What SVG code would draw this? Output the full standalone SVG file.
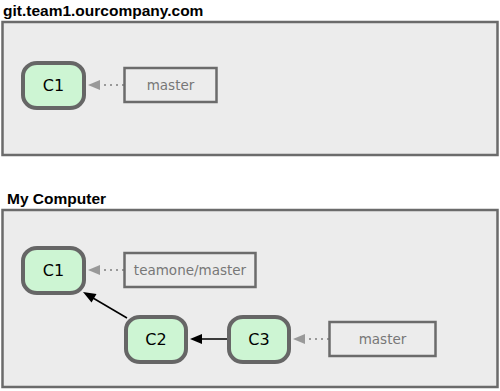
<svg xmlns="http://www.w3.org/2000/svg" width="500" height="391" viewBox="0 0 500 391">
<defs>
<style>
.frame{fill:#ececec;stroke:#6b6b6b;stroke-width:2.5}
.title{font-family:"Liberation Sans",Arial,sans-serif;font-weight:bold;font-size:15.5px;fill:#000}
.commit rect{fill:#cdf5d3;stroke:#666;stroke-width:4}
.commit text{font-family:"DejaVu Sans",sans-serif;font-size:16px;fill:#000;text-anchor:middle}
.ref rect{fill:#ececec;stroke:#6b6b6b;stroke-width:2.5}
.ref text{font-family:"DejaVu Sans",sans-serif;font-size:13.5px;fill:#777;text-anchor:middle}
.dot{stroke:#999;stroke-width:2;stroke-dasharray:2 4;fill:none}
.solid{stroke:#000;stroke-width:1.5;fill:none}
</style>
</defs>
<g id="server">
<text class="title" x="3" y="16">git.team1.ourcompany.com</text>
<rect class="frame" x="2.5" y="22" width="495" height="133"/>
</g>
<g id="local">
<text class="title" x="7" y="204">My Computer</text>
<rect class="frame" x="2.5" y="210" width="495" height="177"/>
</g>
<g id="connectors">
<line class="dot" x1="124" y1="85" x2="100" y2="85"/>
<path d="M100,80 L88,85 L100,90 Z" fill="#999"/>
<line class="dot" x1="124" y1="270" x2="100" y2="270"/>
<path d="M100,265 L88,270 L100,275 Z" fill="#999"/>
<line class="dot" x1="329" y1="339" x2="305" y2="339"/>
<path d="M305,334 L293,339 L305,344 Z" fill="#999"/>
<line class="solid" x1="127" y1="318" x2="93" y2="298"/>
<path d="M83,292 L96.5,294 L91.5,302.5 Z" fill="#000"/>
<line class="solid" x1="227" y1="339" x2="200" y2="339"/>
<path d="M190,339 L202,334 L202,344 Z" fill="#000"/>
</g>
<g id="s-c1" class="commit">
<rect x="23" y="63" width="61" height="45" rx="14" ry="13"/>
<text x="53.5" y="91">C1</text>
</g>
<g id="s-master" class="ref">
<rect x="124.5" y="68" width="92" height="34"/>
<text x="170.5" y="90">master</text>
</g>
<g id="l-c1" class="commit">
<rect x="23" y="248" width="61" height="45" rx="14" ry="13"/>
<text x="53.5" y="276">C1</text>
</g>
<g id="l-teamone" class="ref">
<rect x="124.5" y="253" width="131" height="34"/>
<text x="190" y="275">teamone/master</text>
</g>
<g id="l-c2" class="commit">
<rect x="126" y="317" width="60" height="45" rx="14" ry="13"/>
<text x="156" y="345">C2</text>
</g>
<g id="l-c3" class="commit">
<rect x="229" y="317" width="60" height="45" rx="14" ry="13"/>
<text x="259" y="345">C3</text>
</g>
<g id="l-master" class="ref">
<rect x="329.5" y="322" width="106" height="34"/>
<text x="382.5" y="344">master</text>
</g>
</svg>
